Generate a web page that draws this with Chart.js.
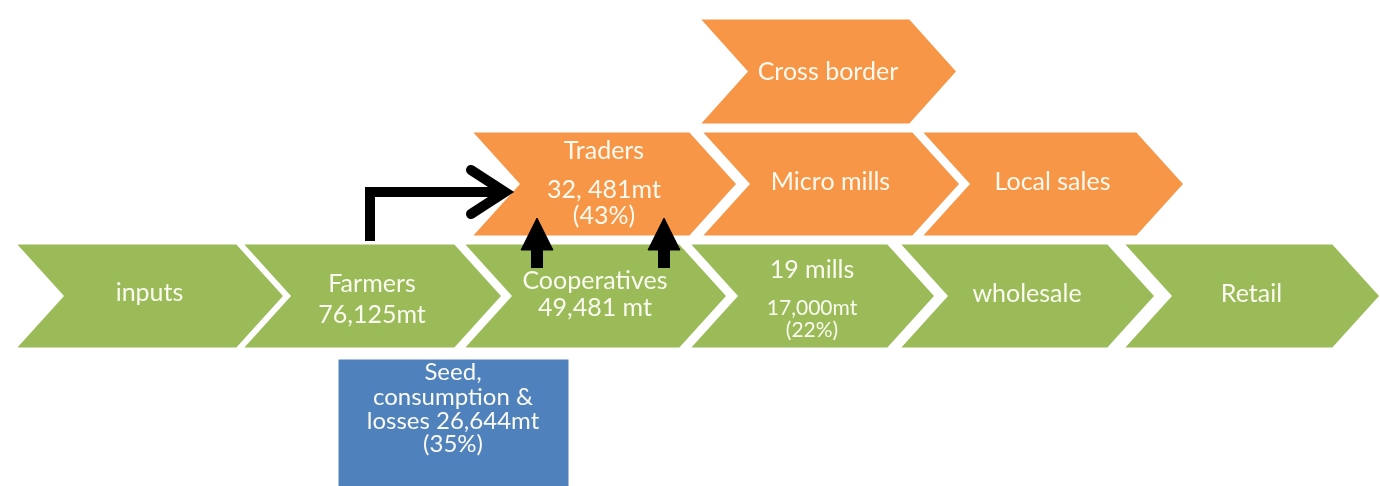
<!DOCTYPE html>
<html>
<head>
<meta charset="utf-8">
<script src="https://cdn.jsdelivr.net/npm/chart.js@4"></script>
<style>
  body { margin: 0; background: #fff; }
  #wrap { width: 1380px; height: 486px; }
</style>
</head>
<body>
<div id="wrap"><canvas id="flowChart"></canvas></div>
<script>
// value chain stages (green main row)
const greenNames = ['inputs', 'Farmers', 'Cooperatives', '19 mills', 'wholesale', 'Retail'];
const greenDetail = [[], ['76,125mt'], ['49,481 mt'], ['17,000mt', '(22%)'], [], []];
const greenFrom = [14, 241, 462, 688, 898, 1122];
const greenTo = [237, 455, 680, 888, 1108, 1333];

// trader side channels (orange)
const orangeNames = ['Cross border', 'Traders', 'Micro mills', 'Local sales'];
const orangeDetail = [[], ['32, 481mt', '(43%)'], [], []];
const orangeFrom = [698, 470, 700, 920];
const orangeTo = [910, 690, 913, 1137];
const orangeRow = [0, 1, 1, 1];

// losses box
const lossLines = ['Seed,', 'consumption &', 'losses 26,644mt', '(35%)'];

// rows of the diagram (diagram units, y grows downwards)
const rowTop = [18, 131, 243];
const rowBottom = [125, 237, 349];
const DEPTH = 48;

// text line positions
const greenTextY = [[293], [284, 315], [281, 308], [270, 308, 330], [294], [294]];
const orangeTextY = [[72], [151, 190, 216], [182], [182]];
const lossTextY = [372, 397, 421, 444];

const GREEN = '#9bbb59';
const ORANGE = '#f79646';
const BLUE = '#4f81bd';
const TEXT = '#fafaf0';

function chevron(from, to, top, bottom) {
  const mid = (top + bottom) / 2;
  return [
    {x: from, y: top}, {x: to, y: top}, {x: to + DEPTH, y: mid},
    {x: to, y: bottom}, {x: from, y: bottom}, {x: from + DEPTH, y: mid},
    {x: from, y: top}
  ];
}

function shape(points, color) {
  return {
    data: points, showLine: true, fill: 'shape',
    backgroundColor: color, borderColor: '#ffffff', borderWidth: 3,
    pointRadius: 0, tension: 0, order: 2
  };
}

function stroke(points, width, cap) {
  return {
    data: points, showLine: true, fill: false,
    borderColor: '#000000', borderWidth: width, borderCapStyle: cap,
    borderJoinStyle: 'miter', pointRadius: 0, tension: 0, order: 0
  };
}

function head(points) {
  return {
    data: points, showLine: true, fill: 'shape',
    backgroundColor: '#000000', borderColor: '#000000', borderWidth: 1,
    pointRadius: 0, tension: 0, order: 0
  };
}

const datasets = [];
const labels = [];

greenNames.forEach((name, i) => {
  datasets.push(shape(chevron(greenFrom[i], greenTo[i], rowTop[2], rowBottom[2]), GREEN));
  labels.push({
    lines: [name].concat(greenDetail[i]),
    cx: (greenFrom[i] + DEPTH + greenTo[i]) / 2,
    ys: greenTextY[i],
    sizes: i === 3 ? [25, 21, 21] : [25, 25]
  });
});

orangeNames.forEach((name, i) => {
  const r = orangeRow[i];
  datasets.push(shape(chevron(orangeFrom[i], orangeTo[i], rowTop[r], rowBottom[r]), ORANGE));
  labels.push({
    lines: [name].concat(orangeDetail[i]),
    cx: (orangeFrom[i] + DEPTH + orangeTo[i]) / 2,
    ys: orangeTextY[i],
    sizes: [25, 25, 25]
  });
});

// blue losses box under Farmers
datasets.push(shape([
  {x: 337, y: 358}, {x: 570, y: 358}, {x: 570, y: 492}, {x: 337, y: 492}, {x: 337, y: 358}
], BLUE));
labels.push({lines: lossLines, cx: 453, ys: lossTextY, sizes: [24, 24, 24, 24]});

// bent arrow Farmers -> Traders
datasets.push(stroke([{x: 370, y: 241}, {x: 370, y: 192}, {x: 500, y: 192}], 10, 'butt'));
datasets.push(stroke([{x: 471, y: 170}, {x: 505, y: 192}, {x: 471, y: 214}], 10, 'round'));
// up arrows Cooperatives -> Traders
[537, 664].forEach(ax => {
  datasets.push(stroke([{x: ax, y: 268}, {x: ax, y: 246}], 12, 'butt'));
  datasets.push(head([{x: ax - 16, y: 250}, {x: ax, y: 218}, {x: ax + 16, y: 250}, {x: ax - 16, y: 250}]));
});

const labelPlugin = {
  id: 'stageLabels',
  afterDatasetsDraw(chart) {
    const {ctx, scales: {x, y}} = chart;
    ctx.save();
    ctx.fillStyle = TEXT;
    ctx.textAlign = 'center';
    ctx.textBaseline = 'middle';
    labels.forEach(lb => {
      lb.lines.forEach((line, j) => {
        ctx.font = (lb.sizes[j] || 25) + 'px Lato';
        ctx.fillText(line, x.getPixelForValue(lb.cx), y.getPixelForValue(lb.ys[j]));
      });
    });
    ctx.restore();
  }
};

const ctx = document.getElementById('flowChart').getContext('2d');
new Chart(ctx, {
  type: 'scatter',
  data: { datasets: datasets },
  options: {
    responsive: true,
    maintainAspectRatio: false,
    animation: false,
    layout: { padding: 0 },
    scales: {
      x: { type: 'linear', min: 0, max: 1380, display: false },
      y: { type: 'linear', min: 0, max: 486, reverse: true, display: false }
    },
    plugins: {
      legend: { display: false },
      tooltip: { enabled: false }
    }
  },
  plugins: [labelPlugin]
});
</script>
</body>
</html>
